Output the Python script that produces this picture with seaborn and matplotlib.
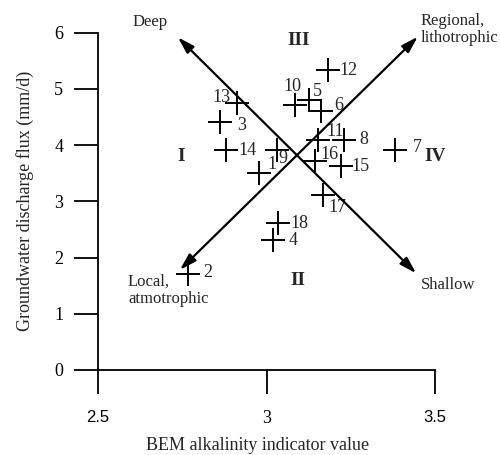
import numpy as np
import pandas as pd
import matplotlib
matplotlib.use("Agg")
import matplotlib.pyplot as plt
import seaborn as sns

# site values
site_ids = ["1", "2", "3", "4", "5", "6", "7", "8", "9", "10",
            "11", "12", "13", "14", "15", "16", "17", "18"]
bem_value = [2.977, 2.768, 2.862, 3.020, 3.125, 3.163, 3.380, 3.230, 3.032, 3.084,
             3.153, 3.183, 2.911, 2.881, 3.220, 3.143, 3.168, 3.034]
discharge_flux = [3.51, 1.71, 4.42, 2.31, 4.80, 4.60, 3.91, 4.10, 3.91, 4.72,
                  4.10, 5.33, 4.75, 3.91, 3.62, 3.71, 3.11, 2.61]

# double-headed trend arrows: (x0, y0, x1, y1)
arrow_deep_shallow = [2.737, 5.92, 3.444, 1.72]
arrow_local_regional = [2.743, 1.78, 3.449, 5.93]

quadrant_names = ["I", "II", "III", "IV"]
quadrant_x = [2.747, 3.094, 3.094, 3.502]
quadrant_y = [3.80, 1.60, 5.87, 3.80]

x_ticks = [2.5, 3, 3.5]
x_tick_labels = ["2.5", "3", "3.5"]
y_ticks = [0, 1, 2, 3, 4, 5, 6]

df = pd.DataFrame({"site": site_ids, "bem": bem_value, "flux": discharge_flux})

# label offsets in points (dx, dy, ha)
label_offsets = {
    "1": (6, 6, "left"), "2": (11, 1, "left"), "3": (12, -3, "left"),
    "4": (11, 0, "left"), "5": (3, 6, "left"), "6": (9, 4, "left"),
    "7": (13, 2, "left"), "8": (11, 0, "left"), "9": (1, -6, "left"),
    "10": (-2, 13, "center"), "11": (6, 6, "left"), "12": (8, 0, "left"),
    "13": (-4, 4, "right"), "14": (9, 0, "left"), "15": (8, 0, "left"),
    "16": (4, 5, "left"), "17": (4, -9, "left"), "18": (9, 0, "left"),
}

sns.set_style("ticks")
plt.rcParams["font.family"] = ["Liberation Serif", "DejaVu Serif"]

fig = plt.figure(figsize=(5.0, 4.55), dpi=100)
ax = fig.add_axes([0.196, 0.187, 0.674, 0.741])

sns.scatterplot(data=df, x="bem", y="flux", marker="+", s=280, color="black",
                linewidth=1.4, ax=ax, legend=False, zorder=3)

for _, r in df.iterrows():
    dx, dy, ha = label_offsets[r["site"]]
    ax.annotate(r["site"], (r["bem"], r["flux"]), xytext=(dx, dy),
                textcoords="offset points", ha=ha, va="center", fontsize=13)

for a in (arrow_deep_shallow, arrow_local_regional):
    ax.annotate("", xy=(a[2], a[3]), xytext=(a[0], a[1]),
                arrowprops=dict(arrowstyle="<|-|>,head_length=1.0,head_width=0.3",
                                color="black", lw=1.6, shrinkA=0, shrinkB=0),
                annotation_clip=False)

for name, qx, qy in zip(quadrant_names, quadrant_x, quadrant_y):
    ax.text(qx, qy, name, ha="center", va="center", fontsize=14,
            fontweight="bold", clip_on=False)

end_kw = dict(ha="left", va="center", fontsize=12, clip_on=False)
ax.text(2.654, 6.19, "Deep", ha="center", va="center", fontsize=12, clip_on=False)
ax.text(3.457, 6.21, "Regional,", **end_kw)
ax.text(3.457, 5.91, "lithotrophic", **end_kw)
ax.text(2.589, 1.57, "Local,", **end_kw)
ax.text(2.589, 1.27, "atmotrophic", **end_kw)
ax.text(3.457, 1.51, "Shallow", **end_kw)

ax.set_xlim(2.5, 3.5)
ax.set_ylim(0, 6)
ax.set_xticks(x_ticks)
ax.set_xticklabels(x_tick_labels)
ax.set_yticks(y_ticks)
for lbl in ax.get_xticklabels():
    if lbl.get_text() == "3":
        lbl.set_fontfamily("Liberation Serif")
        lbl.set_fontsize(13)
    else:
        lbl.set_fontfamily("Liberation Sans")
        lbl.set_fontsize(12)
ax.tick_params(axis="x", direction="out", length=17, width=1.3, pad=12, colors="black")
ax.tick_params(axis="y", direction="out", length=17, width=1.3, pad=8,
               labelsize=13, colors="black")

sns.despine(ax=ax)
for s in ("left", "bottom"):
    ax.spines[s].set_linewidth(1.3)
    ax.spines[s].set_color("black")

ax.set_xlabel("BEM alkalinity indicator value", fontsize=13)
ax.set_ylabel("Groundwater discharge flux (mm/d)", fontsize=13)
ax.xaxis.set_label_coords(0.472, -0.2)
ax.yaxis.set_label_coords(-0.19, 0.5)

fig.savefig("out.png", dpi=100)
